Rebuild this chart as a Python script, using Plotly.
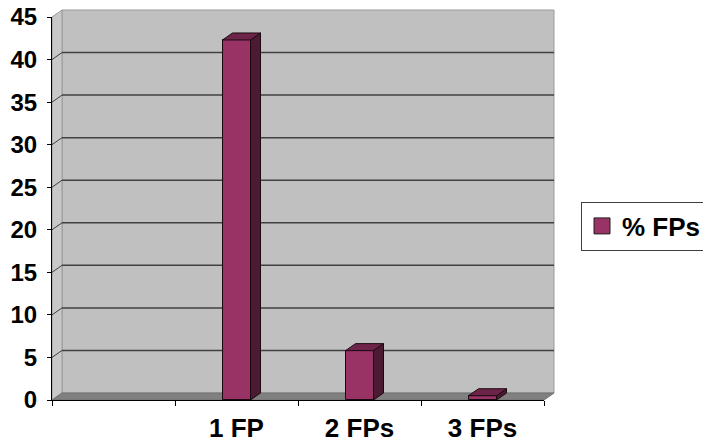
import plotly.graph_objects as go

# ---- data ----
categories = ["", "1 FP", "2 FPs", "3 FPs"]
values = [None, 42.3, 5.8, 0.5]
series_name = "% FPs"
y_ticks = [0, 5, 10, 15, 20, 25, 30, 35, 40, 45]

# ---- geometry (pixels) ----
W, H = 703, 442
ml, mr, mt, mb = 52, 159, 17, 42
pw, ph = W - ml - mr, H - mt - mb
ymax = 45
depth_px_x, depth_px_y = 10, 7
xpos = list(range(len(categories)))
xr = [-0.5, len(categories) - 0.5]
unit_px = pw / (xr[1] - xr[0])
dx = depth_px_x / unit_px
dy = depth_px_y / ph * ymax
dxp = depth_px_x / pw
dyp = depth_px_y / ph
hw = 14 / unit_px

face = "#993366"
side = "#4d1a33"
top = "#6e2449"
edge = "#1a0a10"
FONT = "Liberation Sans, Arial, sans-serif"

fig = go.Figure()
fig.add_trace(go.Bar(
    x=xpos, y=values, name=series_name, width=2 * hw, showlegend=False,
    marker=dict(color=face, line=dict(color=edge, width=1)),
))

sx, sy, tx, ty = [], [], [], []
for c, v in zip(xpos, values):
    if v is None:
        continue
    sx += [c + hw, c + hw, c + hw + dx, c + hw + dx, c + hw, None]
    sy += [0, v, v + dy, dy, 0, None]
    tx += [c - hw, c + hw, c + hw + dx, c - hw + dx, c - hw, None]
    ty += [v, v, v + dy, v + dy, v, None]
fig.add_trace(go.Scatter(x=sx, y=sy, fill="toself", fillcolor=side, mode="lines",
                         line=dict(color=edge, width=1), showlegend=False, hoverinfo="skip"))
fig.add_trace(go.Scatter(x=tx, y=ty, fill="toself", fillcolor=top, mode="lines",
                         line=dict(color=edge, width=1), showlegend=False, hoverinfo="skip"))
# legend entry (square swatch)
fig.add_trace(go.Scatter(x=[None], y=[None], mode="markers", name=series_name,
                         marker=dict(symbol="square", size=17, color=face,
                                     line=dict(color="#202020", width=1))))

shapes = []
shapes.append(dict(type="rect", xref="paper", yref="paper", x0=dxp, x1=1 + dxp, y0=dyp, y1=1 + dyp,
                   fillcolor="#c0c0c0", line=dict(color="#9a9a9a", width=1), layer="below"))
shapes.append(dict(type="path", xref="paper", yref="paper",
                   path=f"M0,0 L0,1 L{dxp},{1+dyp} L{dxp},{dyp} Z",
                   fillcolor="#c8c8c8", line=dict(color="#9a9a9a", width=1), layer="below"))
shapes.append(dict(type="path", xref="paper", yref="paper",
                   path=f"M0,0 L1,0 L{1+dxp},{dyp} L{dxp},{dyp} Z",
                   fillcolor="#808080", line=dict(color="#707070", width=1), layer="below"))
for v in y_ticks[1:-1]:
    shapes.append(dict(type="line", xref="paper", yref="y", x0=dxp, x1=1 + dxp, y0=v + dy, y1=v + dy,
                       line=dict(color="#404040", width=1.5), layer="below"))
    shapes.append(dict(type="line", xref="paper", yref="y", x0=0, x1=dxp, y0=v, y1=v + dy,
                       line=dict(color="#404040", width=1), layer="below"))

fig.update_layout(
    width=W, height=H,
    margin=dict(l=ml, r=mr, t=mt, b=mb, autoexpand=False),
    paper_bgcolor="white", plot_bgcolor="rgba(0,0,0,0)",
    shapes=shapes,
    font=dict(family=FONT, size=24, color="black"),
    showlegend=True,
    legend=dict(x=(581 - ml) / pw, y=(400 - 226) / ph, xanchor="left", yanchor="middle",
                bordercolor="#404040", borderwidth=1, bgcolor="white",
                itemwidth=30, tracegroupgap=0,
                font=dict(size=26, family=FONT, weight="bold", color="black")),
    bargap=0,
)
fig.update_xaxes(range=xr, tickmode="array", tickvals=xpos, ticktext=categories,
                 ticks="", showgrid=False, zeroline=False, showline=True, linecolor="black",
                 linewidth=1, ticklabelstandoff=5,
                 tickfont=dict(size=26, weight="bold", family=FONT),
                 minor=dict(tickmode="array", tickvals=[x - 0.5 for x in xpos] + [xr[1]],
                            ticks="outside", ticklen=5, tickcolor="black", showgrid=False),
                 automargin=False, fixedrange=True)
fig.update_yaxes(range=[0, ymax], tickmode="array", tickvals=y_ticks,
                 ticks="outside", ticklen=4, tickcolor="black", showgrid=False, zeroline=False,
                 showline=True, linecolor="black", linewidth=1,
                 tickfont=dict(size=24, weight="bold", family=FONT), ticklabelstandoff=5,
                 automargin=False, fixedrange=True)

fig.write_html("out.html")
